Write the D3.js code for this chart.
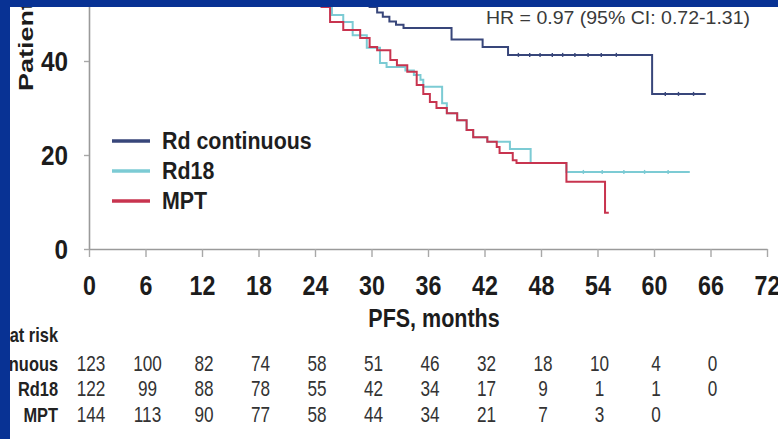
<!DOCTYPE html>
<html>
<head>
<meta charset="utf-8">
<script src="https://cdn.jsdelivr.net/npm/d3@7"></script>
<style>
  html, body { margin: 0; padding: 0; background: #ffffff; }
  svg { display: block; }
  text { font-family: "Liberation Sans", Arial, sans-serif; }
</style>
</head>
<body>
<svg id="chart" width="778" height="439"></svg>
<script>
// ---- data ----------------------------------------------------------------
const months = [0, 6, 12, 18, 24, 30, 36, 42, 48, 54, 60, 66, 72];
const yTicks = [0, 20, 40, 60, 80, 100];
const seriesNames = ["Rd continuous", "Rd18", "MPT"];
const seriesColors = ["#38467a", "#7ccbd4", "#c8344f"];

// Kaplan–Meier steps: [month, % of patients progression-free]
const rdContinuous = [
  [29.0, 53.0], [29.8, 51.5], [30.6, 50.3], [31.2, 49.4], [31.9, 48.4],
  [32.6, 47.7], [33.4, 47.0], [38.5, 44.6], [41.8, 43.0], [44.5, 41.3],
  [59.8, 33.0], [65.5, 33.0]
];
const rd18 = [
  [24.2, 53.0], [24.7, 51.5], [25.8, 49.8], [27.0, 48.3], [28.0, 45.5],
  [29.5, 42.8], [30.9, 39.6], [31.6, 38.7], [33.6, 38.0], [34.5, 37.0],
  [35.2, 36.0], [35.5, 34.5], [37.5, 31.0], [38.0, 28.9], [39.1, 27.4],
  [40.1, 25.3], [40.8, 23.8], [42.3, 22.8], [44.7, 21.3], [46.9, 18.3],
  [50.7, 16.4], [63.8, 16.4]
];
const mpt = [
  [24.2, 53.0], [24.7, 51.5], [25.6, 48.3], [27.0, 46.6], [28.8, 44.9],
  [29.8, 43.0], [30.6, 42.3], [32.0, 40.2], [32.7, 39.1], [33.8, 37.7],
  [34.8, 34.9], [35.5, 33.0], [36.2, 31.3], [36.9, 30.0], [38.0, 28.9],
  [39.1, 27.4], [40.1, 25.3], [40.8, 23.8], [42.3, 22.8], [43.3, 21.7],
  [43.6, 20.4], [45.0, 18.9], [45.4, 18.3], [50.7, 14.3], [54.8, 7.7],
  [55.2, 7.7]
];
// censored observations (month) on the Rd continuous and Rd18 tails
const censorRdContinuous = [45.6, 46.8, 47.9, 49.2, 50.3, 51.6, 53.0, 54.4, 56.0, 61.2, 62.6, 64.2];
const censorRd18 = [52.5, 54.5, 56.8, 59.0, 61.5];

const hrText = "HR = 0.97 (95% CI: 0.72-1.31)";
const xTitle = "PFS, months";
const yTitle = "Patients (%)";

// numbers at risk under each x tick
const riskHeader = "Patients at risk";
const riskRdContinuous = [123, 100, 82, 74, 58, 51, 46, 32, 18, 10, 4, 0];
const riskRd18 = [122, 99, 88, 78, 55, 42, 34, 17, 9, 1, 1, 0];
const riskMpt = [144, 113, 90, 77, 58, 44, 34, 21, 7, 3, 0];

// ---- drawing -------------------------------------------------------------
const svg = d3.select("#chart");
const x = d3.scaleLinear().domain([0, 72]).range([89, 767]);
const y = d3.scaleLinear().domain([0, 100]).range([249, -221]);

// narrows text horizontally, keeping its anchor
function squeeze(sel, k) {
  sel.each(function () {
    const w = this.getComputedTextLength();
    this.setAttribute("textLength", w * k);
    this.setAttribute("lengthAdjust", "spacingAndGlyphs");
  });
}

// axes
const xAxis = svg.append("g")
  .attr("transform", `translate(0,${y(0)})`)
  .call(d3.axisBottom(x).tickValues(months).tickSize(8).tickPadding(19).tickSizeOuter(0));
xAxis.select(".domain").attr("stroke", "#9a9a9a").attr("stroke-width", 1.6);
xAxis.selectAll(".tick line").attr("stroke", "#a8a8a8").attr("stroke-width", 1.4);
xAxis.selectAll(".tick text")
  .attr("fill", "#1c1c1c").attr("font-size", 27).attr("font-weight", "bold")
  .attr("font-family", "Liberation Sans, Arial, sans-serif")
  .call(squeeze, 0.86);

const yAxis = svg.append("g")
  .attr("transform", `translate(${x(0)},0)`)
  .call(d3.axisLeft(y).tickValues(yTicks).tickSize(5).tickPadding(16).tickSizeOuter(0));
yAxis.select(".domain").attr("stroke", "#9a9a9a").attr("stroke-width", 1.6);
yAxis.selectAll(".tick line").attr("stroke", "#a8a8a8").attr("stroke-width", 1.4);
yAxis.selectAll(".tick text")
  .attr("fill", "#1c1c1c").attr("font-size", 27).attr("font-weight", "bold")
  .attr("font-family", "Liberation Sans, Arial, sans-serif")
  .attr("dy", "0.36em")
  .call(squeeze, 0.9);

// survival curves
const line = d3.line().x(d => x(d[0])).y(d => y(d[1])).curve(d3.curveStepAfter);
const allSeries = [rdContinuous, rd18, mpt];
const drawOrder = [1, 2, 0];
drawOrder.forEach(i => {
  svg.append("path")
    .datum(allSeries[i])
    .attr("d", line)
    .attr("fill", "none")
    .attr("stroke", seriesColors[i])
    .attr("stroke-width", 2);
});

// censor marks
function lastValueAt(series, t) {
  let v = series[0][1];
  for (const p of series) if (p[0] <= t) v = p[1];
  return v;
}
[[censorRdContinuous, rdContinuous, 0], [censorRd18, rd18, 1]].forEach(([times, s, i]) => {
  svg.append("g").selectAll("line").data(times).join("line")
    .attr("x1", d => x(d)).attr("x2", d => x(d))
    .attr("y1", d => y(lastValueAt(s, d)) - 2)
    .attr("y2", d => y(lastValueAt(s, d)) + 2)
    .attr("stroke", seriesColors[i]).attr("stroke-width", 1.4);
});

// legend
const legend = svg.append("g");
seriesNames.forEach((name, i) => {
  const ly = 141 + i * 30;
  legend.append("line")
    .attr("x1", 112).attr("x2", 150).attr("y1", ly).attr("y2", ly)
    .attr("stroke", seriesColors[i]).attr("stroke-width", 3.5);
  legend.append("text")
    .attr("x", 162).attr("y", ly + 8)
    .attr("font-size", 23).attr("font-weight", "bold").attr("fill", "#1e1e1e")
    .text(name)
    .call(squeeze, 0.93);
});

// hazard ratio note
svg.append("text")
  .attr("x", 486).attr("y", 24)
  .attr("font-size", 19).attr("fill", "#3a3a3a")
  .attr("textLength", 264).attr("lengthAdjust", "spacingAndGlyphs")
  .text(hrText);

// axis titles
svg.append("text")
  .attr("x", 434).attr("y", 327).attr("text-anchor", "middle")
  .attr("font-size", 25).attr("font-weight", "bold").attr("fill", "#1c1c1c")
  .text(xTitle)
  .call(squeeze, 0.86);

svg.append("text")
  .attr("transform", "translate(33,91) scale(0.75,1) rotate(-90)")
  .attr("font-size", 27).attr("font-weight", "bold").attr("fill", "#1c1c1c")
  .text(yTitle);

// numbers at risk
const riskRows = [riskRdContinuous, riskRd18, riskMpt];
const rowY = [371, 396, 422];
const labelScale = 0.82;
svg.append("text")
  .attr("transform", `translate(58,342) scale(${labelScale},1)`)
  .attr("text-anchor", "end")
  .attr("font-size", 20).attr("font-weight", "bold").attr("fill", "#222")
  .text(riskHeader);
riskRows.forEach((row, r) => {
  svg.append("text")
    .attr("transform", `translate(58,${rowY[r]}) scale(${labelScale},1)`)
    .attr("text-anchor", "end")
    .attr("font-size", 20).attr("font-weight", "bold").attr("fill", "#222")
    .text(seriesNames[r]);
  svg.append("g").selectAll("text").data(row).join("text")
    .attr("transform", (d, i) => `translate(${x(months[i]) + 2},${rowY[r]}) scale(0.78,1)`)
    .attr("text-anchor", "middle")
    .attr("font-size", 22).attr("fill", "#333")
    .text(d => d);
});

// slide frame
svg.append("rect").attr("x", 0).attr("y", 0).attr("width", 778).attr("height", 7).attr("fill", "#083294");
svg.append("rect").attr("x", 0).attr("y", 0).attr("width", 10).attr("height", 439).attr("fill", "#083294");
</script>
</body>
</html>
